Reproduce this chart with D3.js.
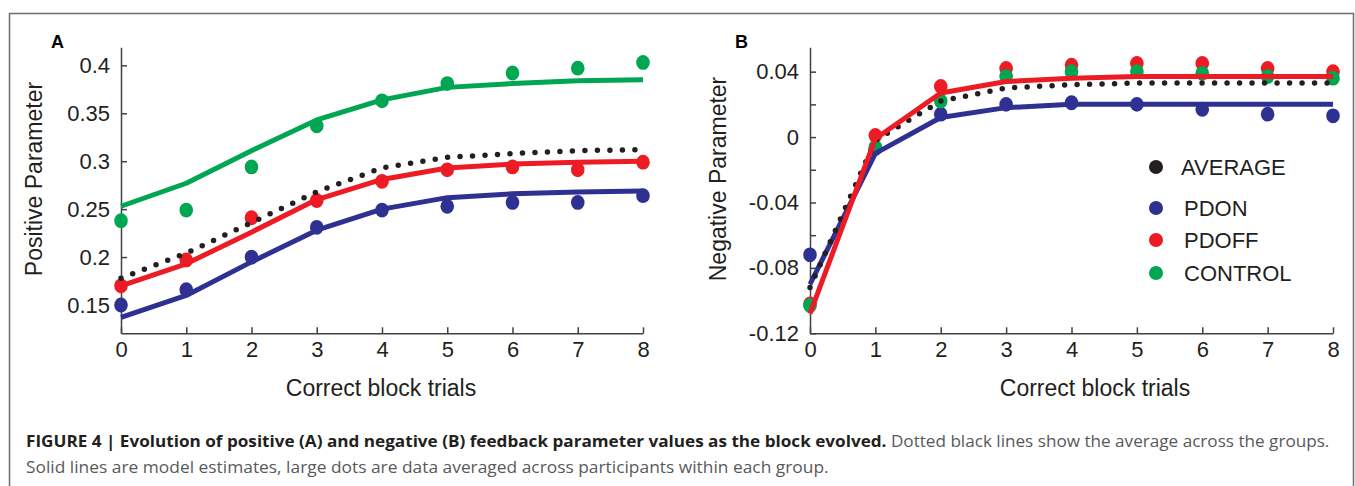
<!DOCTYPE html>
<html>
<head>
<meta charset="utf-8">
<script src="https://cdn.jsdelivr.net/npm/d3@7"></script>
<style>
  body { margin: 0; background: #fff; }
  svg { display: block; }
</style>
</head>
<body>
<svg id="chart"></svg>
<script>
var width = 1355;
var height = 486;

// trials on the x axis
var trials = [0, 1, 2, 3, 4, 5, 6, 7, 8];

// panel A : positive feedback parameter
var posTicks = [0.15, 0.2, 0.25, 0.3, 0.35, 0.4];
var posAverage     = [0.178, 0.204, 0.236, 0.268, 0.293, 0.304, 0.308, 0.311, 0.312];
var posPdonLine    = [0.137, 0.160, 0.195, 0.228, 0.250, 0.262, 0.266, 0.268, 0.269];
var posPdonDots    = [0.150, 0.166, 0.200, 0.231, 0.249, 0.253, 0.257, 0.257, 0.264];
var posPdoffLine   = [0.170, 0.193, 0.226, 0.260, 0.281, 0.293, 0.297, 0.299, 0.300];
var posPdoffDots   = [0.170, 0.197, 0.241, 0.259, 0.279, 0.291, 0.294, 0.291, 0.299];
var posControlLine = [0.253, 0.277, 0.311, 0.343, 0.364, 0.377, 0.381, 0.384, 0.385];
var posControlDots = [0.238, 0.249, 0.294, 0.337, 0.363, 0.381, 0.392, 0.397, 0.403];

// panel B : negative feedback parameter
var negTicks = [-0.12, -0.08, -0.04, 0, 0.04];
var negMinorTicks = [-0.12, -0.1, -0.08, -0.06, -0.04, -0.02, 0, 0.02, 0.04];
var negAverage     = [-0.092, -0.002, 0.022, 0.030, 0.032, 0.033, 0.033, 0.033, 0.033];
var negPdonLine    = [-0.090, -0.010, 0.012, 0.018, 0.020, 0.020, 0.020, 0.020, 0.020];
var negPdonDots    = [-0.072, -0.007, 0.014, 0.020, 0.021, 0.020, 0.017, 0.014, 0.013];
var negPdoffLine   = [-0.108, -0.001, 0.027, 0.034, 0.036, 0.037, 0.037, 0.037, 0.037];
var negPdoffDots   = [-0.102, 0.001, 0.031, 0.042, 0.044, 0.045, 0.045, 0.042, 0.040];
var negControlDots = [-0.103, -0.006, 0.022, 0.037, 0.040, 0.040, 0.039, 0.037, 0.036];

var legendNames = ["AVERAGE", "PDON", "PDOFF", "CONTROL"];

var colors = {
  AVERAGE: "#231f20",
  PDON: "#2e3192",
  PDOFF: "#ed1c24",
  CONTROL: "#00a651"
};

var font = "'Liberation Sans', Arial, sans-serif";
var ink = "#231f20";

var svg = d3.select("#chart")
    .attr("width", width)
    .attr("height", height);

// figure frame
svg.append("path")
    .attr("d", "M9.5," + height + "V13.5H1353.5V" + height)
    .attr("fill", "none")
    .attr("stroke", "#6d6e70")
    .attr("stroke-width", 1.5);

function drawPanel(opt) {
  var g = svg.append("g");

  var x = d3.scaleLinear()
      .domain([0, 8])
      .range(opt.xRange);

  var y = d3.scaleLinear()
      .domain(opt.yDomain)
      .range([333.3, 47.3]);

  var fmt = function(d) {
    return opt.labelTicks.some(t => Math.abs(t - d) < 1e-9) ? String(+d.toFixed(2)) : "";
  };

  var yAxis = g.append("g")
      .attr("transform", "translate(" + opt.xRange[0] + ",0)")
      .call(d3.axisLeft(y)
          .tickValues(opt.yTicks)
          .tickFormat(fmt)
          .tickSizeInner(-6)
          .tickSizeOuter(0)
          .tickPadding(11));

  var xAxis = g.append("g")
      .attr("transform", "translate(0," + y.range()[0] + ")")
      .call(d3.axisBottom(x)
          .tickValues(trials)
          .tickFormat(d3.format("d"))
          .tickSizeInner(-6)
          .tickSizeOuter(0)
          .tickPadding(8));

  [xAxis, yAxis].forEach(function(a) {
    a.selectAll("path, line").attr("stroke", "#414042").attr("stroke-width", 1.5);
    a.selectAll("text")
        .attr("font-family", font)
        .attr("font-size", 22)
        .attr("fill", ink);
  });

  var line = d3.line()
      .x((d, i) => x(trials[i]))
      .y(d => y(d));

  function dots(values, color) {
    g.append("g")
      .selectAll("ellipse")
      .data(values)
      .enter()
      .append("ellipse")
        .attr("cx", (d, i) => x(trials[i]))
        .attr("cy", d => y(d))
        .attr("rx", 6.8)
        .attr("ry", 7.4)
        .attr("fill", color);
  }

  function solid(values, color) {
    g.append("path")
        .datum(values)
        .attr("d", line)
        .attr("fill", "none")
        .attr("stroke", color)
        .attr("stroke-width", 5)
        .attr("stroke-linejoin", "round");
  }

  dots(opt.pdonDots, colors.PDON);
  dots(opt.pdoffDots, colors.PDOFF);
  dots(opt.controlDots, colors.CONTROL);
  solid(opt.pdonLine, colors.PDON);
  if (opt.controlLine) solid(opt.controlLine, colors.CONTROL);

  g.append("path")
      .datum(opt.average)
      .attr("d", line)
      .attr("fill", "none")
      .attr("stroke", colors.AVERAGE)
      .attr("stroke-width", 5.5)
      .attr("stroke-linecap", "round")
      .attr("stroke-dasharray", "0 12.5");

  solid(opt.pdoffLine, colors.PDOFF);

  // panel letter
  g.append("text")
      .attr("x", opt.letterX)
      .attr("y", 48)
      .attr("font-family", font)
      .attr("font-weight", "bold")
      .attr("font-size", 18)
      .attr("fill", "#000")
      .text(opt.letter);

  // axis titles
  g.append("text")
      .attr("transform", "translate(" + opt.yTitleX + ",179) rotate(-90)")
      .attr("text-anchor", "middle")
      .attr("font-family", font)
      .attr("font-size", 23)
      .attr("fill", ink)
      .text(opt.yTitle);

  g.append("text")
      .attr("x", opt.xTitleX)
      .attr("y", 396)
      .attr("text-anchor", "middle")
      .attr("font-family", font)
      .attr("font-size", 23)
      .attr("fill", ink)
      .text("Correct block trials");

  return g;
}

drawPanel({
  letter: "A",
  letterX: 51,
  xRange: [121, 643],
  yDomain: [0.1205, 0.4188],
  yTicks: posTicks,
  labelTicks: posTicks,
  average: posAverage,
  pdonLine: posPdonLine,
  pdonDots: posPdonDots,
  pdoffLine: posPdoffLine,
  pdoffDots: posPdoffDots,
  controlLine: posControlLine,
  controlDots: posControlDots,
  yTitle: "Positive Parameter",
  yTitleX: 42,
  xTitleX: 381
});

var panelB = drawPanel({
  letter: "B",
  letterX: 735,
  xRange: [810, 1333],
  yDomain: [-0.12, 0.0549],
  yTicks: negMinorTicks,
  labelTicks: negTicks,
  average: negAverage,
  pdonLine: negPdonLine,
  pdonDots: negPdonDots,
  pdoffLine: negPdoffLine,
  pdoffDots: negPdoffDots,
  controlLine: null,
  controlDots: negControlDots,
  yTitle: "Negative Parameter",
  yTitleX: 726,
  xTitleX: 1095
});

// legend rows (first row sits a little apart from the rest)
var legendY = d3.scaleOrdinal()
    .domain(legendNames)
    .range([167, 208, 240, 273]);

var legend = panelB.append("g")
    .selectAll(".legend")
    .data(legendNames)
    .enter()
    .append("g")
      .classed("legend", true)
      .attr("transform", d => "translate(1156," + legendY(d) + ")");

legend.append("circle")
    .attr("r", 7)
    .attr("fill", d => colors[d]);

legend.append("text")
    .attr("x", d => d === "AVERAGE" ? 25 : 28)
    .attr("dy", "0.36em")
    .attr("font-family", font)
    .attr("font-size", 22)
    .attr("fill", ink)
    .text(d => d);

// caption
var captionFont = "'Open Sans', 'Liberation Sans', sans-serif";

function captionLine(parts, yPos, right) {
  var t = svg.append("text")
      .attr("font-family", captionFont)
      .attr("font-size", 15.5);
  parts.forEach(function(p) {
    t.append("tspan")
        .attr("font-weight", p.bold ? "bold" : "normal")
        .attr("fill", p.bold ? "#231f20" : "#58595b")
        .text(p.text);
  });
  var w = t.node().getComputedTextLength();
  var sx = (right - 26) / w;
  t.attr("transform", "translate(26," + yPos + ") scale(" + sx + ",1)");
}

captionLine([
  { text: "FIGURE 4 | Evolution of positive (A) and negative (B) feedback parameter values as the block evolved.", bold: true },
  { text: " Dotted black lines show the average across the groups.", bold: false }
], 447, 1330);

captionLine([
  { text: "Solid lines are model estimates, large dots are data averaged across participants within each group.", bold: false }
], 473, 829);
</script>
</body>
</html>
